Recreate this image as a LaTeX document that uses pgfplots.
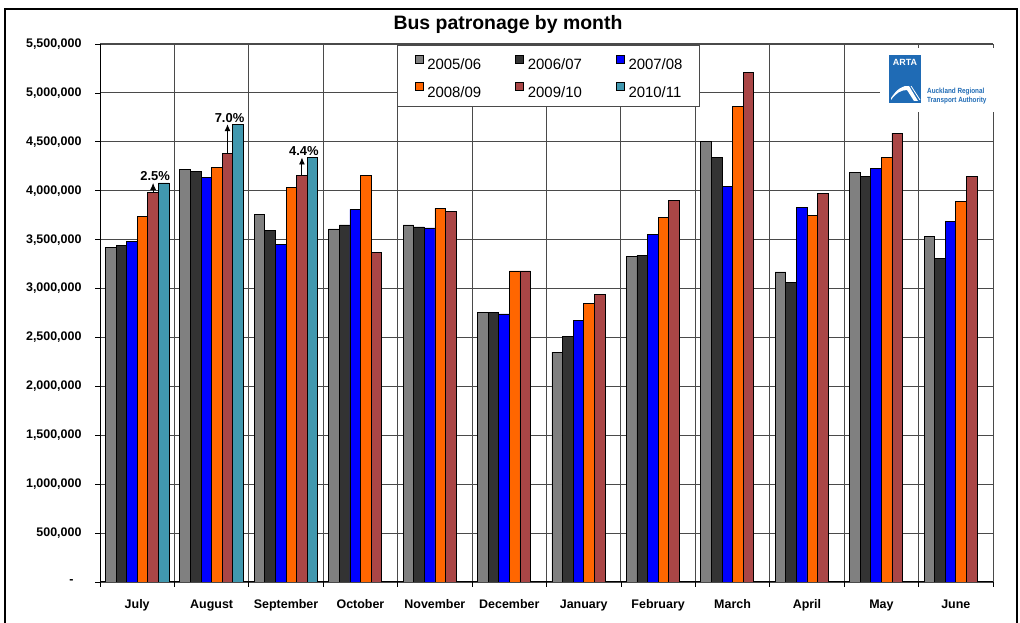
\documentclass[border=0pt]{standalone}
\usepackage{fontspec}
\setmainfont{Liberation Sans}
\usepackage{pgfplots}
\pgfplotsset{compat=1.18}
\usetikzlibrary{arrows.meta}

\definecolor{c0506}{HTML}{808080}
\definecolor{c0607}{HTML}{333333}
\definecolor{c0708}{HTML}{0000FF}
\definecolor{c0809}{HTML}{FF6600}
\definecolor{c0910}{HTML}{AA4646}
\definecolor{c1011}{HTML}{4198AF}
\definecolor{artablue}{HTML}{1F6BB5}
\definecolor{gridc}{HTML}{4A4A4A}

\newcommand{\fs}[1]{\fontsize{#1}{#1}\selectfont}

\begin{document}
\begin{tikzpicture}
\useasboundingbox (0bp,0bp) rectangle (1020bp,623bp);
\draw[line width=2.5bp] (5bp,-10bp) rectangle (1017bp,614bp);
\node[font=\fs{19.5}\bfseries] at (508bp,598bp) {Bus patronage by month};

\begin{axis}[
  at={(100bp,41bp)}, anchor=south west,
  scale only axis, width=893bp, height=538bp,
  xmin=-0.5, xmax=11.5, ymin=0, ymax=5500000,
  enlargelimits=false,
  ybar=0pt, bar width=10.6bp,
  legend image code/.code={\draw[#1,/tikz/.cd,line width=0.6bp] (0bp,1bp) rectangle (8bp,9bp);},
  axis x line*=bottom, axis y line*=left,
  axis line style={line width=1bp, black},
  xtick={0,...,11},
  xticklabels={July,August,September,October,November,December,January,February,March,April,May,June},
  major x tick style={draw=none},
  minor xtick={-0.5,0.5,...,11.5},
  minor x tick style={black, line width=0.8bp},
  ytick={0,500000,...,5500000},
  yticklabels={{\textbf{-}\rule{8bp}{0pt}},{500,000},{1,000,000},{1,500,000},{2,000,000},{2,500,000},{3,000,000},{3,500,000},{4,000,000},{4,500,000},{5,000,000},{5,500,000}},
  scaled y ticks=false,
  major y tick style={black, line width=0.8bp},
  tick align=outside, major tick length=5bp, minor tick length=5bp,
  xminorgrids, ymajorgrids,
  minor x grid style={gridc, line width=1bp},
  major y grid style={gridc, line width=1.1bp},
  xticklabel style={font=\fs{12.5}\bfseries, yshift=-9bp},
  yticklabel style={font=\fs{12.5}\bfseries, xshift=-10bp},
  every axis plot/.append style={draw=black, line width=0.7bp},
  legend columns=3,
  legend cell align=left,
  legend style={at={(0.3326,0.9981)}, anchor=north west,
    draw=gridc, line width=1.3bp, fill=white,
    font=\fs{15},
    inner xsep=17bp, inner ysep=9bp,
    row sep=13bp,
    nodes={inner sep=0pt, text height=11bp, text depth=0pt},
    /tikz/every odd column/.append style={column sep=4bp},
    /tikz/every even column/.append style={column sep=34bp}},
]
\addplot[fill=c0506] coordinates {(0,3420000) (1,4220000) (2,3760000) (3,3610000) (4,3650000) (5,2760000) (6,2350000) (7,3330000) (8,4500000) (9,3170000) (10,4190000) (11,3530000)};
\addplot[fill=c0607] coordinates {(0,3440000) (1,4200000) (2,3590000) (3,3650000) (4,3630000) (5,2760000) (6,2510000) (7,3340000) (8,4340000) (9,3060000) (10,4150000) (11,3310000)};
\addplot[fill=c0708] coordinates {(0,3480000) (1,4140000) (2,3450000) (3,3810000) (4,3620000) (5,2740000) (6,2670000) (7,3550000) (8,4040000) (9,3830000) (10,4230000) (11,3690000)};
\addplot[fill=c0809] coordinates {(0,3740000) (1,4240000) (2,4030000) (3,4160000) (4,3820000) (5,3180000) (6,2850000) (7,3730000) (8,4860000) (9,3750000) (10,4340000) (11,3890000)};
\addplot[fill=c0910] coordinates {(0,3980000) (1,4380000) (2,4160000) (3,3370000) (4,3790000) (5,3180000) (6,2940000) (7,3900000) (8,5210000) (9,3970000) (10,4590000) (11,4150000)};
\addplot[fill=c1011] coordinates {(0,4080000) (1,4680000) (2,4340000)};
\legend{2005/06,2006/07,2007/08,2008/09,2009/10,2010/11}

% growth arrows from the 2009/10 bar to the 2010/11 level
\draw[-{Latex[length=7bp,width=6bp]}, line width=0.9bp] (axis cs:0.2137,3980000) -- (axis cs:0.2137,4080000) node[above, xshift=2bp, inner sep=1.5bp, font=\fs{13}\bfseries] {2.5\%};
\draw[-{Latex[length=7bp,width=6bp]}, line width=0.9bp] (axis cs:1.2137,4380000) -- (axis cs:1.2137,4680000) node[above, xshift=2bp, inner sep=1.5bp, font=\fs{13}\bfseries] {7.0\%};
\draw[-{Latex[length=7bp,width=6bp]}, line width=0.9bp] (axis cs:2.2137,4160000) -- (axis cs:2.2137,4340000) node[above, xshift=2bp, inner sep=1.5bp, font=\fs{13}\bfseries] {4.4\%};
\end{axis}

% ARTA logo
\fill[white] (880bp,511bp) rectangle (995bp,575bp);
\fill[artablue] (889bp,520bp) rectangle (921bp,568bp);
\node[white, font=\fs{9}\bfseries] at (905bp,561bp) {ARTA};
\fill[white] (891bp,525bp) .. controls (897bp,534bp) and (903bp,538bp) .. (909bp,537bp)
  -- (918bp,522bp) -- (914bp,522bp) -- (907bp,533bp)
  .. controls (901bp,533bp) and (896bp,530bp) .. (891bp,523bp) -- cycle;
\draw[white, line width=0.8bp] (911bp,537bp) -- (920bp,523bp);
\node[artablue, anchor=west, inner sep=0pt, font=\fs{7.5}\bfseries] at (927bp,531bp) {\scalebox{0.85}[1]{Auckland Regional}};
\node[artablue, anchor=west, inner sep=0pt, font=\fs{7.5}\bfseries] at (927bp,522bp) {\scalebox{0.85}[1]{Transport Authority}};
\end{tikzpicture}
\end{document}
